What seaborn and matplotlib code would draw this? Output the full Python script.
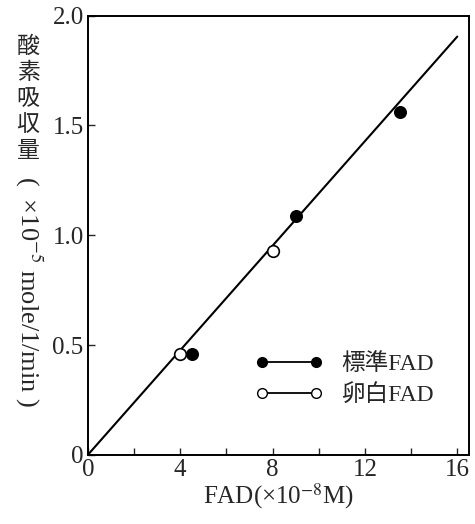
import numpy as np
import pandas as pd
import seaborn as sns
import matplotlib.pyplot as plt
from matplotlib.lines import Line2D

# data
std_x = [4.5, 9.0, 13.5]
std_y = [0.46, 1.09, 1.56]
egg_x = [4.0, 8.0]
egg_y = [0.46, 0.93]
fit_x = [0.0, 16.0]
fit_y = [0.0, 1.905]
legend_labels = ["標準FAD", "卵白FAD"]
x_ticks = [0, 4, 8, 12, 16]
y_ticks = [0, 0.5, 1.0, 1.5, 2.0]
y_ticklabels = ["0", "0.5", "1.0", "1.5", "2.0"]

sns.set_theme(style="ticks")
plt.rcParams["font.family"] = ["Liberation Serif", "Noto Sans CJK JP", "DejaVu Sans"]
plt.rcParams["mathtext.fontset"] = "stix"

fig = plt.figure(figsize=(4.75, 5.24), dpi=100)
ax = fig.add_axes([0.185, 0.132, 0.802, 0.838])

sns.lineplot(x=fit_x, y=fit_y, ax=ax, color="black", lw=1.5)
sns.scatterplot(x=std_x, y=std_y, ax=ax, color="black", s=70,
                edgecolor="black", linewidth=1, zorder=3)
sns.scatterplot(x=egg_x, y=egg_y, ax=ax, color="white", s=70,
                edgecolor="black", linewidth=1.2, zorder=3)

ax.set_xlim(0, 16.5)
ax.set_ylim(0, 2.0)
ax.set_xticks(x_ticks)
ax.set_xticks([2, 6, 10, 14], minor=True)
ax.set_yticks(y_ticks)
ax.set_yticklabels(y_ticklabels)
ax.tick_params(which="both", direction="in", length=5, width=1, labelsize=18, pad=3)
for s in ax.spines.values():
    s.set_visible(True)
    s.set_linewidth(1.4)
    s.set_color("black")

ax.set_xlabel("FAD(×10$^{-8}$M)", fontsize=18, labelpad=0)

# y label: upright kanji then rotated unit
fig.text(0.059, 0.93, "酸\n素\n吸\n収\n量", fontsize=16.5, ha="center", va="top",
         linespacing=1.3)
fig.text(0.059, 0.665, "(  ×10$^{-5}$ mole/1/min )", fontsize=19, rotation=-90,
         ha="center", va="top")

handles = [
    Line2D([], [], color="black", lw=1.3, marker="o", markersize=7,
           markerfacecolor="black", markeredgecolor="black"),
    Line2D([], [], color="black", lw=1.3, marker="o", markersize=7,
           markerfacecolor="white", markeredgecolor="black"),
]
ax.legend(handles, legend_labels, loc="upper left", bbox_to_anchor=(0.438, 0.232),
          borderaxespad=0, borderpad=0, frameon=False, numpoints=2, fontsize=17,
          handlelength=2.9, handletextpad=0.75, labelspacing=0.4)

fig.savefig("out.png", dpi=100)
